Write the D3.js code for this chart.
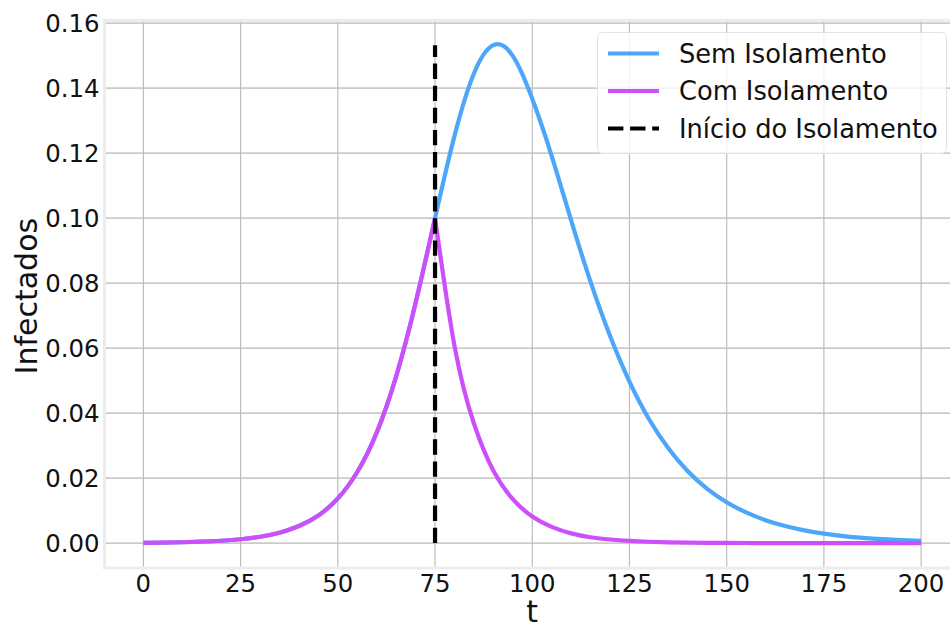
<!DOCTYPE html>
<html>
<head>
<meta charset="utf-8">
<script src="https://cdn.jsdelivr.net/npm/d3@7"></script>
<style>
  body { margin: 0; background: #fff; }
  svg { font-family: "DejaVu Sans", sans-serif; display: block; }
</style>
</head>
<body>
<svg width="950" height="625"></svg>
<script>
// Data
var daysRise = [0, 5, 10, 15, 20, 25, 30, 35, 40, 45, 50, 55, 60, 65, 70, 75];
var infRise = [0.00010, 0.00016, 0.00027, 0.00045, 0.00073, 0.00119, 0.00196, 0.00321,
  0.00525, 0.00850, 0.01374, 0.02188, 0.03400, 0.05130, 0.07390, 0.10000];

var daysAfter = [75, 80, 85, 90, 95, 100, 105, 110, 115, 120, 125, 130, 135, 140, 145,
  150, 155, 160, 165, 170, 175, 180, 185, 190, 195, 200];
var semAfter = [0.10000, 0.1253, 0.1445, 0.1532, 0.1499, 0.1367, 0.1191, 0.0993, 0.0804, 0.0638,
  0.0497, 0.0382, 0.0292, 0.0221, 0.0167, 0.01257, 0.00943, 0.00705, 0.00526,
  0.00392, 0.00292, 0.00217, 0.00162, 0.00120, 0.00089, 0.00066];
var comAfter = [0.10000, 0.0607, 0.0368, 0.0223, 0.0135, 0.0082, 0.0050, 0.0030, 0.0018, 0.0011,
  0.00067, 0.00041, 0.00025, 0.00015, 0.00009, 0.00006, 0.00003, 0.00002, 0.00001,
  0.00001, 0, 0, 0, 0, 0, 0];

var isolationDay = 75;
var xTicks = [0, 25, 50, 75, 100, 125, 150, 175, 200];
var yTicks = [0, 0.02, 0.04, 0.06, 0.08, 0.10, 0.12, 0.14, 0.16];
var seriesNames = ["Sem Isolamento", "Com Isolamento", "Início do Isolamento"];
var seriesColors = ["#4da6fa", "#cc4ffa", "#000000"];

var svg = d3.select("svg");

// Axes box (right side runs past the picture edge)
var boxL = 104.5, boxT = 20.3, boxR = 960, boxB = 568;

var semPts = daysRise.map(function(d, i) { return [d, infRise[i]]; })
  .concat(daysAfter.slice(1).map(function(d, i) { return [d, semAfter[i + 1]]; }));
var comRisePts = daysRise.map(function(d, i) { return [d, infRise[i]]; });
var comFallPts = daysAfter.map(function(d, i) { return [d, comAfter[i]]; });

var ymax = d3.max(semPts, function(d) { return d[1]; });
var ypad = ymax * 0.05;

var x = d3.scaleLinear().domain([-10, 210]).range([boxL, boxR]);
var y = d3.scaleLinear().domain([-ypad, ymax + ypad]).range([boxB, boxT]);

// Frame
svg.append("rect")
  .attr("x", boxL).attr("y", boxT)
  .attr("width", boxR - boxL).attr("height", boxB - boxT)
  .attr("fill", "#fff")
  .attr("stroke", "#ececec")
  .attr("stroke-width", 3);

// Grid
svg.append("g")
  .selectAll("line")
  .data(yTicks)
  .enter().append("line")
    .attr("x1", boxL + 1.5).attr("x2", boxR)
    .attr("y1", function(d) { return y(d); })
    .attr("y2", function(d) { return y(d); })
    .attr("stroke", "#cbcbcb")
    .attr("stroke-width", 1.6);

svg.append("g")
  .selectAll("line")
  .data(xTicks)
  .enter().append("line")
    .attr("x1", function(d) { return x(d); })
    .attr("x2", function(d) { return x(d); })
    .attr("y1", boxT + 1.5).attr("y2", boxB - 1.5)
    .attr("stroke", "#bdbdbd")
    .attr("stroke-width", 1.2);

// Tick labels
svg.append("g")
  .selectAll("text")
  .data(yTicks)
  .enter().append("text")
    .attr("x", 99.5)
    .attr("y", function(d) { return y(d); })
    .attr("dy", "0.36em")
    .attr("text-anchor", "end")
    .attr("font-size", 24.4)
    .attr("fill", "#111")
    .text(d3.format(".2f"));

svg.append("g")
  .selectAll("text")
  .data(xTicks)
  .enter().append("text")
    .attr("x", function(d) { return x(d); })
    .attr("y", 592)
    .attr("text-anchor", "middle")
    .attr("font-size", 24.4)
    .attr("fill", "#111")
    .text(function(d) { return d; });

// Axis labels
svg.append("text")
  .attr("transform", "translate(37," + ((boxT + boxB) / 2 + 2) + ") rotate(-90)")
  .attr("text-anchor", "middle")
  .attr("font-size", 30)
  .attr("fill", "#111")
  .text("Infectados");

svg.append("text")
  .attr("x", (boxL + boxR) / 2)
  .attr("y", 622)
  .attr("text-anchor", "middle")
  .attr("font-size", 30)
  .attr("fill", "#111")
  .text("t");

// Lines
var line = d3.line()
  .x(function(d) { return x(d[0]); })
  .y(function(d) { return y(d[1]); })
  .curve(d3.curveNatural);

svg.append("path")
  .datum(semPts)
  .attr("d", line)
  .attr("fill", "none")
  .attr("stroke", seriesColors[0])
  .attr("stroke-width", 4.2);

svg.append("path")
  .datum(comRisePts)
  .attr("d", line)
  .attr("fill", "none")
  .attr("stroke", seriesColors[1])
  .attr("stroke-width", 4.2);

svg.append("path")
  .datum(comFallPts)
  .attr("d", line)
  .attr("fill", "none")
  .attr("stroke", seriesColors[1])
  .attr("stroke-width", 4.2);

svg.append("line")
  .attr("x1", x(isolationDay)).attr("x2", x(isolationDay))
  .attr("y1", y(0)).attr("y2", y(ymax))
  .attr("stroke", seriesColors[2])
  .attr("stroke-width", 4.2)
  .attr("stroke-dasharray", "15.4,6.7");

// Legend
var legend = svg.append("g").attr("id", "legend");

legend.append("rect")
  .attr("x", 597.5).attr("y", 32.5)
  .attr("width", 349).attr("height", 121)
  .attr("rx", 5)
  .attr("fill", "#fff")
  .attr("fill-opacity", 0.8)
  .attr("stroke", "#e2e2e2")
  .attr("stroke-width", 1);

var entry = legend.selectAll("g.entry")
  .data(seriesNames)
  .enter().append("g")
    .attr("class", "entry")
    .attr("transform", function(d, i) { return "translate(0," + (53.5 + i * 37.5) + ")"; });

entry.append("line")
  .attr("x1", 608).attr("x2", 659)
  .attr("y1", 0).attr("y2", 0)
  .attr("stroke", function(d, i) { return seriesColors[i]; })
  .attr("stroke-width", 4.2)
  .attr("stroke-dasharray", function(d, i) { return i === 2 ? "15.4,6.7" : null; });

entry.append("text")
  .attr("x", 679)
  .attr("dy", "0.36em")
  .attr("font-size", 25.7)
  .attr("fill", "#111")
  .text(function(d) { return d; });
</script>
</body>
</html>
